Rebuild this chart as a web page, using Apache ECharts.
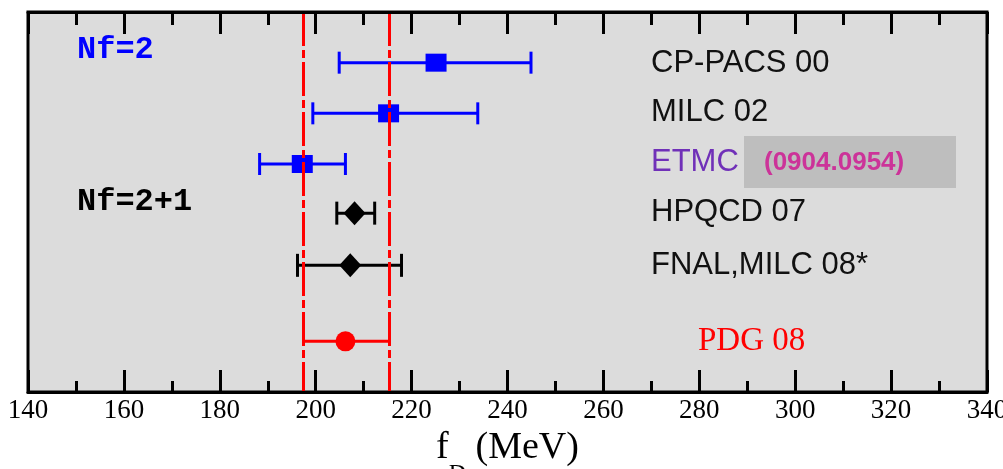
<!DOCTYPE html>
<html>
<head>
<meta charset="utf-8">
<script src="https://cdn.jsdelivr.net/npm/echarts@6/dist/echarts.min.js"></script>
<style>
  html, body { margin: 0; padding: 0; background: #fff; }
  #main { width: 1003px; height: 469px; }
</style>
</head>
<body>
<div id="main"></div>
<script>
// f_D results (MeV)
var names   = ['CP-PACS 00', 'MILC 02', 'ETMC', 'HPQCD 07', 'FNAL,MILC 08*', 'PDG 08'];
var groups  = ['nf2', 'nf2', 'nf2', 'nf21', 'nf21', 'pdg'];
var rows    = [1, 2, 3, 3.97, 5, 6.5];
var central = [225.1, 215.2, 197.2, 208.1, 207.2, 206.2];
var low     = [204.9, 199.4, 188.3, 204.4, 196.2, 197.4];
var high    = [244.9, 233.8, 206.2, 212.3, 217.9, 215.3];
var pdgBand = [197.4, 215.3];
var xTicks  = [140, 160, 180, 200, 220, 240, 260, 280, 300, 320, 340];

var chart = echarts.init(document.getElementById('main'));

function pick(g, fn) {
  var out = [];
  for (var i = 0; i < names.length; i++) {
    if (groups[i] === g) out.push(fn(i));
  }
  return out;
}

function errBars(color, cap) {
  return function (params, api) {
    var y = api.value(2);
    var a = api.coord([api.value(0), y]);
    var b = api.coord([api.value(1), y]);
    var st = { stroke: color, lineWidth: 3 };
    var kids = [{ type: 'line', shape: { x1: a[0], y1: a[1], x2: b[0], y2: b[1] }, style: st }];
    if (cap) {
      kids.push({ type: 'line', shape: { x1: a[0], y1: a[1] - cap / 2, x2: a[0], y2: a[1] + cap / 2 }, style: st });
      kids.push({ type: 'line', shape: { x1: b[0], y1: b[1] - cap / 2, x2: b[0], y2: b[1] + cap / 2 }, style: st });
    }
    return { type: 'group', children: kids };
  };
}

var errData = function (g) { return pick(g, function (i) { return [low[i], high[i], rows[i]]; }); };
var ptData  = function (g) { return pick(g, function (i) { return [central[i], rows[i]]; }); };

var option = {
  animation: false,
  backgroundColor: '#fff',
  grid: [
    {
      left: 28, right: 16, top: 12, bottom: 77,
      outerBoundsMode: 'none', containLabel: false,
      show: true, backgroundColor: 'transparent', borderColor: '#000', borderWidth: 3
    },
    // thin strip along the top edge, its axis gives the top ticks (pointing down)
    { left: 28, right: 16, top: 11, height: 1, outerBoundsMode: 'none', containLabel: false }
  ],
  xAxis: [
    {
      type: 'value', gridIndex: 0, position: 'bottom', z: 5,
      min: xTicks[0], max: xTicks[xTicks.length - 1], interval: xTicks[1] - xTicks[0],
      axisLine: { show: true, onZero: false, lineStyle: { color: '#000', width: 3 } },
      axisTick: { show: true, inside: true, length: 22, lineStyle: { color: '#000', width: 3 } },
      minorTick: { show: true, splitNumber: 2, length: 11, lineStyle: { color: '#000', width: 3 } },
      splitLine: { show: false },
      axisLabel: { fontFamily: 'Liberation Serif', fontSize: 27, color: '#000', margin: 5 },
      name: '{m|f}{s|D}{m| (MeV)}',
      nameLocation: 'middle',
      nameGap: 24,
      nameTextStyle: {
        rich: {
          m: { fontFamily: 'Liberation Serif', fontSize: 38, color: '#000', lineHeight: 44, verticalAlign: 'top' },
          s: { fontFamily: 'Liberation Serif', fontSize: 24, color: '#000', lineHeight: 24, verticalAlign: 'top', padding: [33, 0, 0, 0] }
        }
      }
    },
    {
      type: 'value', gridIndex: 1, position: 'bottom', z: 5,
      min: xTicks[0], max: xTicks[xTicks.length - 1], interval: xTicks[1] - xTicks[0],
      axisLine: { show: true, onZero: false, lineStyle: { color: '#000', width: 3 } },
      axisTick: { show: true, inside: false, length: 22, lineStyle: { color: '#000', width: 3 } },
      minorTick: { show: true, splitNumber: 2, length: 13, lineStyle: { color: '#000', width: 3 } },
      splitLine: { show: false },
      axisLabel: { show: false }
    }
  ],
  yAxis: [
    { type: 'value', gridIndex: 0, min: 0, max: 7.5, inverse: true, show: false },
    { type: 'value', gridIndex: 1, min: 0, max: 1, show: false }
  ],
  series: [
    { type: 'custom', renderItem: errBars('#0000ff', 22), encode: { x: [0, 1], y: 2 }, data: errData('nf2'), clip: false, z: 2 },
    { type: 'custom', renderItem: errBars('#000000', 23), encode: { x: [0, 1], y: 2 }, data: errData('nf21'), clip: false, z: 2 },
    { type: 'custom', renderItem: errBars('#ff0000', 0), encode: { x: [0, 1], y: 2 }, data: errData('pdg'), clip: false, z: 2 },
    { type: 'scatter', symbol: 'rect', symbolSize: [21, 18], itemStyle: { color: '#0000ff', opacity: 1 }, data: ptData('nf2'), z: 3 },
    { type: 'scatter', symbol: 'diamond', symbolSize: [22, 24], itemStyle: { color: '#000', opacity: 1 }, data: ptData('nf21'), z: 3 },
    {
      type: 'scatter', symbol: 'circle', symbolSize: 20, itemStyle: { color: '#ff0000', opacity: 1 }, data: ptData('pdg'), z: 5,
      markLine: {
        silent: true, symbol: 'none', label: { show: false },
        lineStyle: { color: '#ff0000', width: 3, type: [34, 4, 8, 4], opacity: 1 },
        data: [{ xAxis: pdgBand[0] }, { xAxis: pdgBand[1] }]
      }
    }
  ],
  graphic: [
    { type: 'rect', shape: { x: 28, y: 12, width: 959, height: 380 }, style: { fill: '#dcdcdc' }, z: -100, silent: true },
    { type: 'rect', shape: { x: 744, y: 136, width: 212, height: 52 }, style: { fill: '#bebebe' }, z: -50, silent: true },
    { type: 'text', x: 77, y: 50, style: { text: 'Nf=2', font: 'bold 32px "Liberation Mono"', fill: '#0000ff', verticalAlign: 'middle' }, z: 10 },
    { type: 'text', x: 77, y: 202, style: { text: 'Nf=2+1', font: 'bold 32px "Liberation Mono"', fill: '#000', verticalAlign: 'middle' }, z: 10 },
    { type: 'text', x: 651, y: 63, style: { text: names[0], font: '31px "Liberation Sans"', fill: '#111', verticalAlign: 'middle' }, z: 10 },
    { type: 'text', x: 651, y: 112, style: { text: names[1], font: '31px "Liberation Sans"', fill: '#111', verticalAlign: 'middle' }, z: 10 },
    { type: 'text', x: 651, y: 162, style: { text: names[2], font: '31px "Liberation Sans"', fill: '#7030b8', verticalAlign: 'middle' }, z: 10 },
    { type: 'text', x: 764, y: 163, style: { text: '(0904.0954)', font: 'bold 26px "Liberation Sans"', fill: '#cc3399', verticalAlign: 'middle' }, z: 10 },
    { type: 'text', x: 651, y: 212, style: { text: names[3], font: '31px "Liberation Sans"', fill: '#111', verticalAlign: 'middle' }, z: 10 },
    { type: 'text', x: 651, y: 265, style: { text: names[4], font: '31px "Liberation Sans"', fill: '#111', verticalAlign: 'middle' }, z: 10 },
    { type: 'text', x: 698, y: 341, style: { text: names[5], font: '33px "Liberation Serif"', fill: '#ff0000', verticalAlign: 'middle' }, z: 10 }
  ]
};

chart.setOption(option);
</script>
</body>
</html>
